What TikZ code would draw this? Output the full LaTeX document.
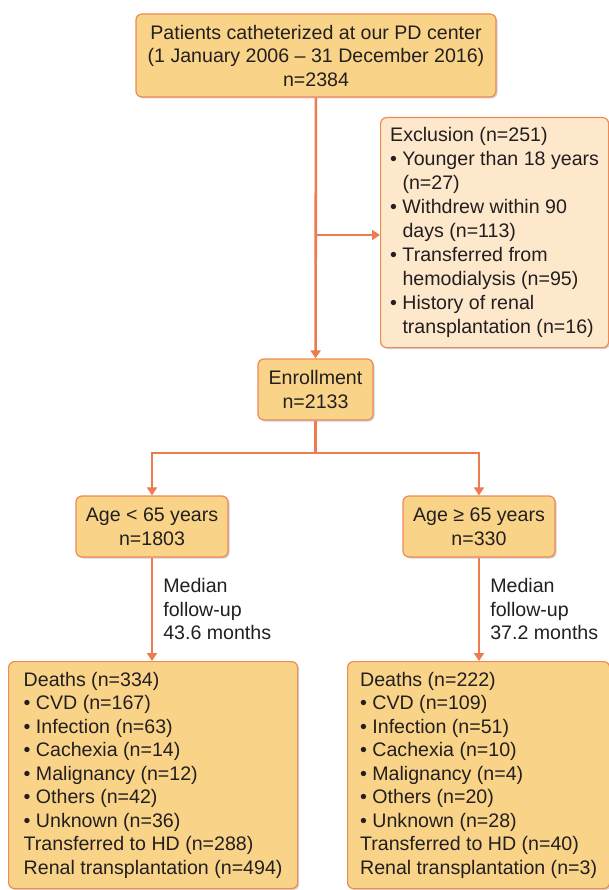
\documentclass[tikz,border=0pt]{standalone}
\usepackage{fontspec}
\setmainfont{Liberation Sans}
\usetikzlibrary{arrows.meta,shadows}
\definecolor{boxfill}{HTML}{F9D488}
\definecolor{exclfill}{HTML}{FDE8CB}
\definecolor{boxline}{HTML}{EE8A56}
\definecolor{flowline}{HTML}{EC7B4D}
\definecolor{ink}{HTML}{231F20}
\newcommand{\bitem}{\textbullet\ }
\newcommand{\bcont}{\phantom{\textbullet\ }}
\tikzset{
  box/.style={draw=boxline,line width=1.2pt,fill=boxfill,rounded corners=6pt,text=ink,
    font=\fontsize{19.6}{23.5}\selectfont,
    drop shadow={shadow xshift=1.5pt,shadow yshift=-1.5pt,opacity=0.3,fill=black!60}},
  fulabel/.style={anchor=west,xshift=8pt,inner sep=2pt,align=left,text=ink,
    font=\fontsize{19.6}{23.5}\selectfont},
  flow/.style={draw=flowline,line width=2.6pt},
  arr/.style={flow,-{Triangle[width=10pt,length=8pt]}},
}
\begin{document}
\begin{tikzpicture}[x=1pt,y=-1pt]
\useasboundingbox (0,0) rectangle (609,890);
\node (pts) [box,align=center,minimum width=360pt,minimum height=83pt] at (316,55.5)
  {Patients catheterized at our PD center\\(1 January 2006 – 31 December 2016)\\n=2384};
\node (excl) [box,fill=exclfill,anchor=north west,align=left,inner xsep=4pt,
  minimum width=228pt,minimum height=230pt,font=\fontsize{19.6}{24}\selectfont] at (380,117)
  {Exclusion (n=251)\\
   \bitem Younger than 18 years\\ \bcont (n=27)\\
   \bitem Withdrew within 90\\ \bcont days (n=113)\\
   \bitem Transferred from\\ \bcont hemodialysis (n=95)\\
   \bitem History of renal\\ \bcont transplantation (n=16)};
\node (enrol) [box,align=center,minimum width=115pt,minimum height=61pt] at (315.5,389.5)
  {Enrollment\\n=2133};
\node (young) [box,align=center,minimum width=152pt,minimum height=61pt] at (152,526.5)
  {Age < 65 years\\n=1803};
\node (old) [box,align=center,minimum width=152pt,minimum height=61pt] at (479,526.5)
  {Age ≥ 65 years\\n=330};
\node (deathsL) [box,anchor=north west,align=left,minimum width=289pt,minimum height=227pt] at (8,661)
  {Deaths (n=334)\\
   \bitem CVD (n=167)\\
   \bitem Infection (n=63)\\
   \bitem Cachexia (n=14)\\
   \bitem Malignancy (n=12)\\
   \bitem Others (n=42)\\
   \bitem Unknown (n=36)\\
   Transferred to HD (n=288)\\
   Renal transplantation (n=494)};
\node (deathsR) [box,anchor=north west,align=left,minimum width=262pt,minimum height=227pt] at (347,661)
  {Deaths (n=222)\\
   \bitem CVD (n=109)\\
   \bitem Infection (n=51)\\
   \bitem Cachexia (n=10)\\
   \bitem Malignancy (n=4)\\
   \bitem Others (n=20)\\
   \bitem Unknown (n=28)\\
   Transferred to HD (n=40)\\
   Renal transplantation (n=3)};
% flow lines
\coordinate (split) at (pts.south |- 0,235);
\coordinate (fork) at (enrol.south |- 0,453);
\draw[arr] (pts) -- (enrol);
\draw[arr] (split) -- (split -| excl.west);
\draw[flow] (enrol) -- (fork);
\draw[arr] (fork) -| (young);
\draw[arr] (fork) -| (old);
\draw[arr] (young) -- node (fuL) [fulabel] {Median\\follow-up\\43.6 months} (young |- deathsL.north);
\draw[arr] (old) -- node (fuR) [fulabel] {Median\\follow-up\\37.2 months} (old |- deathsR.north);
\end{tikzpicture}
\end{document}
